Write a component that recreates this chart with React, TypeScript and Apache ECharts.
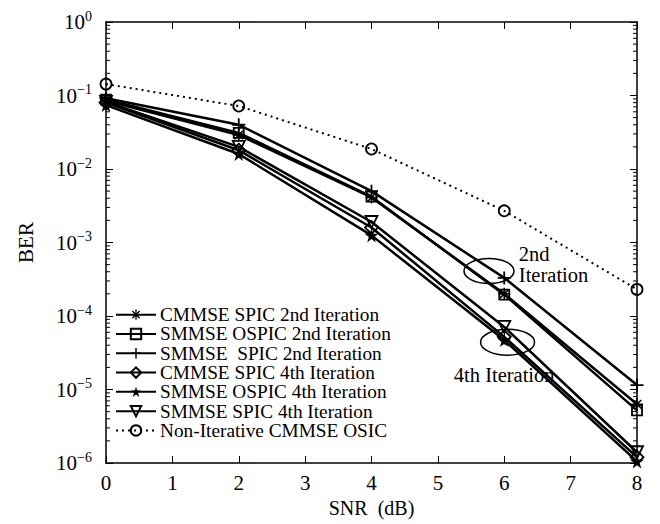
import React, { useEffect, useRef } from "react";
import * as echarts from "echarts";

const snr = [0, 2, 4, 6, 8];
const seriesNames = [
  "CMMSE SPIC 2nd Iteration",
  "SMMSE OSPIC 2nd Iteration",
  "SMMSE  SPIC 2nd Iteration",
  "CMMSE SPIC 4th Iteration",
  "SMMSE OSPIC 4th Iteration",
  "SMMSE SPIC 4th Iteration",
  "Non-Iterative CMMSE OSIC",
];
const cmmseSpic2 = [0.085, 0.029, 0.0041, 2.0e-4, 6.3e-6];
const smmseOspic2 = [0.088, 0.031, 0.0042, 1.95e-4, 5.2e-6];
const smmseSpic2 = [0.092, 0.04, 0.005, 3.3e-4, 1.15e-5];
const cmmseSpic4 = [0.08, 0.018, 0.0016, 5.2e-5, 1.2e-6];
const smmseOspic4 = [0.074, 0.016, 0.00125, 4.7e-5, 1.05e-6];
const smmseSpic4 = [0.082, 0.02, 0.0019, 7.1e-5, 1.4e-6];
const nonIterative = [0.143, 0.072, 0.0187, 0.0027, 2.3e-4];
const xTicks = [0, 1, 2, 3, 4, 5, 6, 7, 8];

const FONT = "'Liberation Serif', 'Times New Roman', serif";

const PLUS = "path://M4.3,0H5.7V10H4.3Z M0,4.3H10V5.7H0Z";
const ASTERISK =
  "path://M4.35,0H5.65V10H4.35Z M0,4.35H10V5.65H0Z M1.0,1.9L1.9,1.0L9.0,8.1L8.1,9.0Z M8.1,1.0L9.0,1.9L1.9,9.0L1.0,8.1Z";
const STAR =
  "path://M5,0L6.18,3.62L10,3.62L6.91,5.86L8.09,9.5L5,7.26L1.91,9.5L3.09,5.86L0,3.62L3.82,3.62Z";

const minorVals: number[] = [];
for (let e = -6; e < 0; e++) {
  for (let k = 2; k <= 9; k++) minorVals.push(k * Math.pow(10, e));
}

function pairs(ys: number[]) {
  return snr.map((x, i) => [x, ys[i]]);
}

export default function App() {
  const ref = useRef<HTMLDivElement>(null);
  useEffect(() => {
    const chart = echarts.init(ref.current!, undefined, { renderer: "svg" });
    const lineW = 2.5;
    const mk = (
      name: string,
      data: number[],
      symbol: string,
      size: number,
      filled: boolean,
      extra: any = {}
    ) => ({
      name,
      type: "line",
      data: pairs(data),
      symbol,
      symbolSize: size,
      showSymbol: true,
      clip: false,
      lineStyle: { color: "#000", width: lineW, type: "solid" },
      itemStyle: filled
        ? { color: "#000", borderColor: "#000", borderWidth: 0 }
        : { color: "rgba(255,255,255,0)", borderColor: "#000", borderWidth: 1.8 },
      emphasis: { disabled: true },
      z: 3,
      ...extra,
    });
    const series: any[] = [
      mk(seriesNames[0], cmmseSpic2, ASTERISK, 12, true),
      mk(seriesNames[1], smmseOspic2, "rect", 10, false),
      mk(seriesNames[2], smmseSpic2, PLUS, 13, true),
      mk(seriesNames[3], cmmseSpic4, "diamond", 13, false),
      mk(seriesNames[4], smmseOspic4, STAR, 14, true),
      mk(seriesNames[5], smmseSpic4, "triangle", 12, false, { symbolRotate: 180 }),
      mk(seriesNames[6], nonIterative, "circle", 11, false, {
        lineStyle: { color: "#000", width: 2, type: [2, 4] },
      }),
      {
        type: "custom",
        silent: true,
        data: minorVals.map((v) => [0, v]),
        encode: { x: 0, y: 1 },
        clip: false,
        z: 1,
        renderItem: (params: any, api: any) => {
          const v = api.value(1);
          const l = api.coord([0, v]);
          const r = api.coord([8, v]);
          return {
            type: "group",
            children: [
              { type: "line", shape: { x1: l[0], y1: l[1], x2: l[0] + 4, y2: l[1] }, style: { stroke: "#000", lineWidth: 1 } },
              { type: "line", shape: { x1: r[0], y1: r[1], x2: r[0] - 4, y2: r[1] }, style: { stroke: "#000", lineWidth: 1 } },
            ],
          };
        },
      },
    ];
    const axisLine = { show: true, onZero: false, lineStyle: { color: "#000", width: 1.5 } };
    const supLabel = (v: number) => {
      const e = Math.round(Math.log10(v));
      const s = e < 0 ? "\u2212" + Math.abs(e) : String(e);
      return "{b|10}{s|" + s + "}";
    };
    chart.setOption({
      animation: false,
      backgroundColor: "#fff",
      textStyle: { fontFamily: FONT },
      grid: { left: 106, right: 23, top: 22, bottom: 61, containLabel: false },
      legend: {
        data: seriesNames,
        orient: "vertical",
        left: 115,
        top: 305,
        itemWidth: 40,
        itemHeight: 13,
        itemGap: 0,
        padding: 0,
        selectedMode: false,
        textStyle: { fontFamily: FONT, fontSize: 19.3, color: "#000", lineHeight: 19.3, padding: [0, 0, 0, -1] },
      },
      xAxis: [
        {
          type: "value",
          min: 0,
          max: 8,
          interval: 1,
          name: "SNR  (dB)",
          nameLocation: "middle",
          nameGap: 35,
          nameTextStyle: { fontFamily: FONT, fontSize: 20, color: "#000" },
          axisLine,
          axisTick: { inside: true, length: 7, lineStyle: { color: "#000", width: 1 } },
          axisLabel: {
            fontFamily: FONT,
            fontSize: 21,
            color: "#000",
            margin: 9,
            customValues: xTicks,
            formatter: (v: number) => String(v),
          },
          splitLine: { show: false },
        },
        {
          type: "value",
          min: 0,
          max: 8,
          interval: 1,
          position: "top",
          axisLine,
          axisTick: { inside: true, length: 7, lineStyle: { color: "#000", width: 1 } },
          axisLabel: { show: false },
          splitLine: { show: false },
        },
      ],
      yAxis: [
        {
          type: "log",
          logBase: 10,
          min: 1e-6,
          max: 1,
          name: "BER",
          nameLocation: "middle",
          nameGap: 70,
          nameTextStyle: { fontFamily: FONT, fontSize: 21, color: "#000" },
          axisLine,
          axisTick: { inside: true, length: 7, lineStyle: { color: "#000", width: 1 } },
          axisLabel: {
            margin: 14,
            formatter: supLabel,
            rich: {
              b: { fontFamily: FONT, fontSize: 21, color: "#000" },
              s: { fontFamily: FONT, fontSize: 14, color: "#000", padding: [0, 0, 12, 0] },
            },
          },
          splitLine: { show: false },
        },
        {
          type: "log",
          logBase: 10,
          min: 1e-6,
          max: 1,
          position: "right",
          axisLine,
          axisTick: { inside: true, length: 7, lineStyle: { color: "#000", width: 1 } },
          axisLabel: { show: false },
          splitLine: { show: false },
        },
      ],
      series,
    });

    const px = (x: number, y: number) => chart.convertToPixel({ xAxisIndex: 0, yAxisIndex: 0 }, [x, y]) as number[];
    const e1 = px(5.77, 4.1e-4);
    const e2 = px(6.05, 4.4e-5);
    const t1 = px(6.22, 6.9e-4);
    const t2 = px(6.22, 3.6e-4);
    const t3 = px(5.24, 1.58e-5);
    const txt = (p: number[], text: string) => ({
      type: "text",
      x: p[0],
      y: p[1],
      style: { text, fontFamily: FONT, fontSize: 20.5, fill: "#000", verticalAlign: "middle", align: "left" },
      z: 10,
    });
    chart.setOption({
      graphic: [
        { type: "ellipse", shape: { cx: e1[0], cy: e1[1], rx: 25, ry: 12.5 }, style: { fill: "none", stroke: "#000", lineWidth: 1.5 }, z: 10 },
        { type: "ellipse", shape: { cx: e2[0], cy: e2[1], rx: 27, ry: 13 }, style: { fill: "none", stroke: "#000", lineWidth: 1.5 }, z: 10 },
        txt(t1, "2nd"),
        txt(t2, "Iteration"),
        txt(t3, "4th Iteration"),
      ],
    });
    return () => chart.dispose();
  }, []);
  return <div ref={ref} style={{ width: 660, height: 524, marginLeft: -8, marginTop: -8 }} />;
}
